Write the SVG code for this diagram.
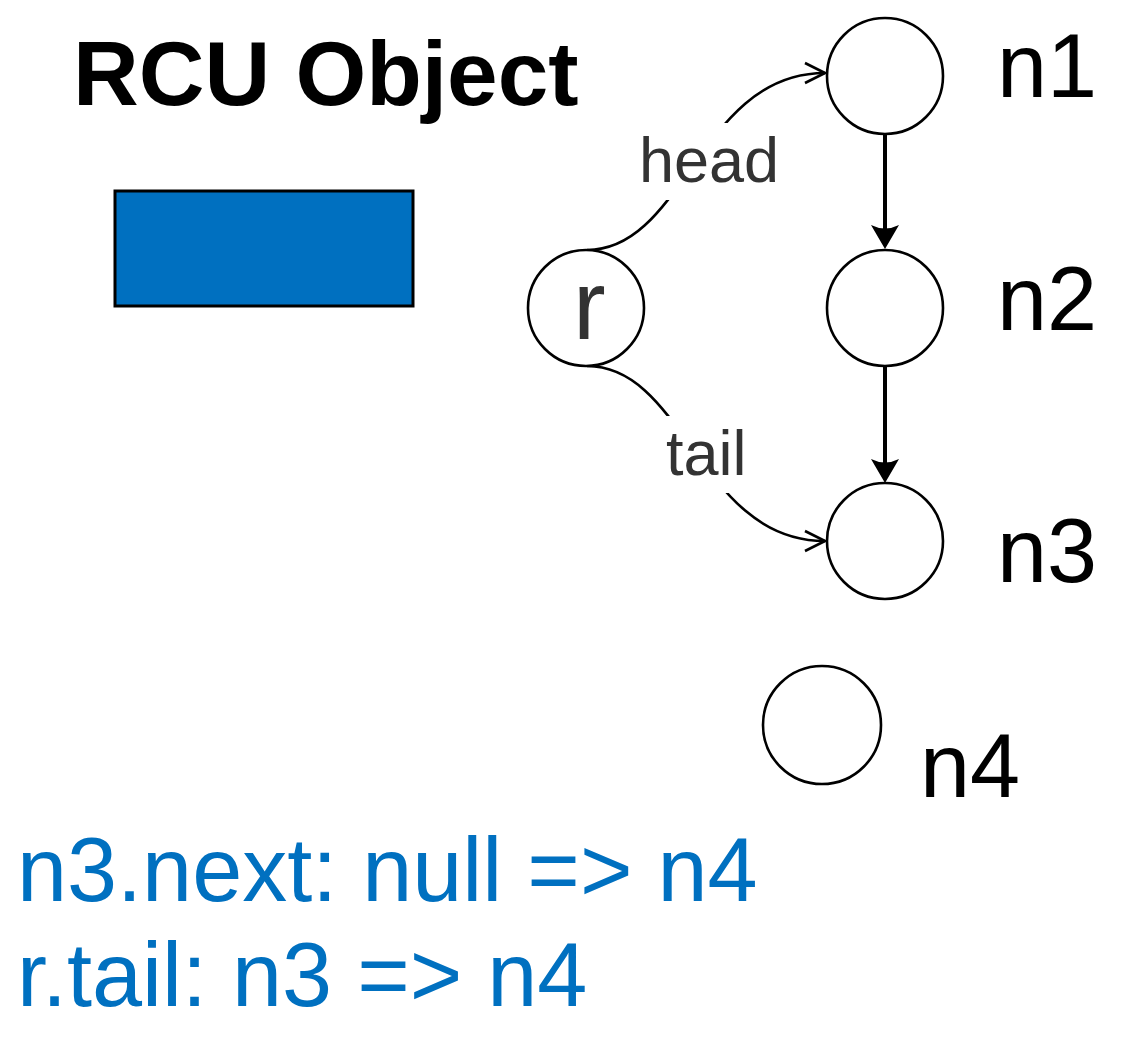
<svg xmlns="http://www.w3.org/2000/svg" width="1141" height="1038" viewBox="0 0 1141 1038">
  <style>
    text { font-family: "Liberation Sans", Arial, sans-serif; }
    .node { fill: #ffffff; stroke: #000000; stroke-width: 2.6; }
    .lbl { font-size: 90px; fill: #000000; }
    .edge-lbl { font-size: 63px; fill: #333333; }
    .ptr { fill: none; stroke: #000000; stroke-width: 2.6; }
    .next { fill: none; stroke: #000000; stroke-width: 4; }
    .head { fill: #000000; stroke: none; }
    .note { font-size: 90px; fill: #0070C0; }
  </style>
  <defs>
    <marker id="open" markerUnits="userSpaceOnUse" viewBox="-24 -13 26 26" refX="0" refY="0" markerWidth="26" markerHeight="26" orient="auto">
      <path d="M-20,-10 L0,0 L-20,10" fill="none" stroke="#000000" stroke-width="2.6"/>
    </marker>
  </defs>

  <rect width="1141" height="1038" fill="#ffffff"/>

  <!-- title and object box -->
  <text x="73" y="105" font-size="91" font-weight="bold" fill="#000000">RCU Object</text>
  <rect x="115" y="191" width="298" height="115" fill="#0070C0" stroke="#000000" stroke-width="3"/>

  <!-- connectors -->
  <g id="connectors">
    <path class="ptr" d="M587,250 C685,250 700,73 825,73" marker-end="url(#open)"/>
    <path class="ptr" d="M587,366 C685,366 700,541 825,541" marker-end="url(#open)"/>
    <line class="next" x1="885" y1="134" x2="885" y2="234"/>
    <path class="head" d="M885,249 L871,225 Q885,232 899,225 Z"/>
    <line class="next" x1="885" y1="366" x2="885" y2="468"/>
    <path class="head" d="M885,483 L871,459 Q885,466 899,459 Z"/>
  </g>

  <!-- edge labels -->
  <g id="label-head">
    <rect x="625" y="123" width="170" height="77" fill="#ffffff"/>
    <text class="edge-lbl" x="639" y="182">head</text>
  </g>
  <g id="label-tail">
    <rect x="640" y="416" width="130" height="77" fill="#ffffff"/>
    <text class="edge-lbl" x="666" y="475">tail</text>
  </g>

  <!-- nodes -->
  <g id="node-r">
    <circle class="node" cx="586" cy="308" r="58"/>
    <text x="573" y="339" font-size="98" fill="#333333">r</text>
  </g>
  <g id="node-n1">
    <circle class="node" cx="885" cy="76" r="58"/>
    <text class="lbl" x="997" y="97">n1</text>
  </g>
  <g id="node-n2">
    <circle class="node" cx="885" cy="308" r="58"/>
    <text class="lbl" x="997" y="330">n2</text>
  </g>
  <g id="node-n3">
    <circle class="node" cx="885" cy="541" r="58"/>
    <text class="lbl" x="997" y="582">n3</text>
  </g>
  <g id="node-n4">
    <circle class="node" cx="822" cy="725" r="59"/>
    <text class="lbl" x="920" y="797">n4</text>
  </g>

  <!-- update notes -->
  <text class="note" x="17" y="901">n3.next: null =&gt; n4</text>
  <text class="note" x="17" y="1006">r.tail: n3 =&gt; n4</text>
</svg>
